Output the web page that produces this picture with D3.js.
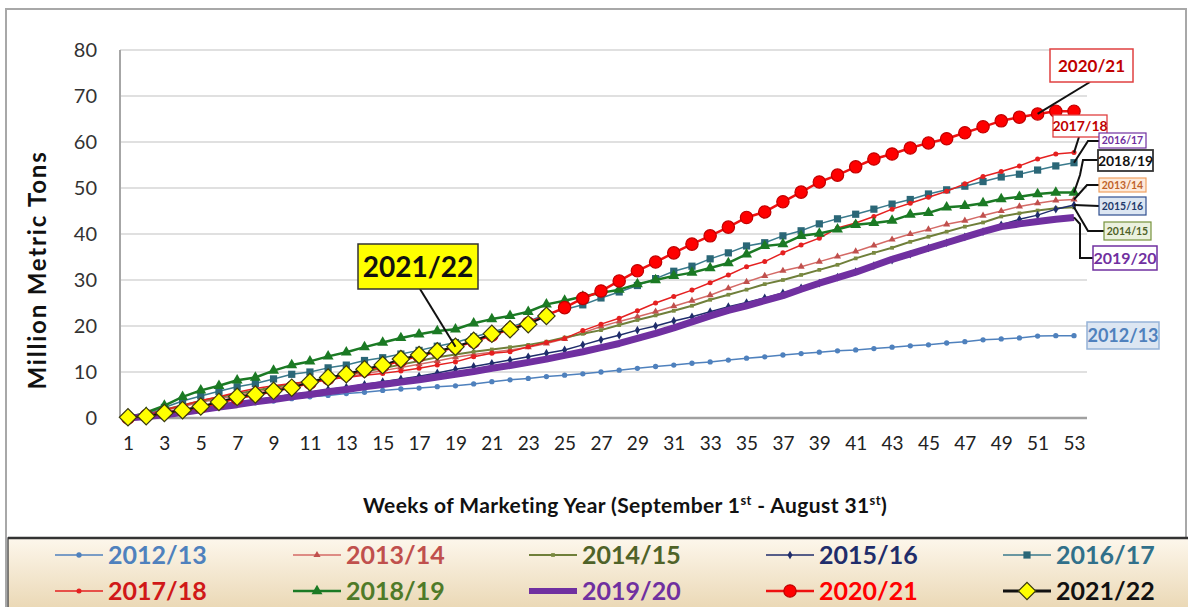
<!DOCTYPE html>
<html><head><meta charset="utf-8">
<script src="https://cdn.jsdelivr.net/npm/d3@7"></script>
<style>
html,body{margin:0;padding:0;background:#fff;}
svg{display:block;font-family:Lato,"Open Sans",sans-serif;}
</style></head>
<body><svg id="c" width="1188" height="607"></svg>
<script>
// ---------- DATA ----------
const weeks = d3.range(1, 54);
const xTickLabels = d3.range(1, 54, 2);
const yTickLabels = [0, 10, 20, 30, 40, 50, 60, 70, 80];
const seriesNames = ["2012/13","2013/14","2014/15","2015/16","2016/17","2017/18","2018/19","2019/20","2020/21","2021/22"];

const v2012_13 = [0,0.5,1.1,1.6,2.0,2.4,2.9,3.3,3.7,4.2,4.6,4.9,5.3,5.6,6.0,6.3,6.5,6.8,7.0,7.4,7.9,8.3,8.6,9.0,9.3,9.6,10.0,10.4,10.8,11.2,11.5,11.9,12.2,12.6,13.0,13.3,13.7,14.0,14.3,14.6,14.8,15.1,15.4,15.7,15.9,16.3,16.6,17.0,17.2,17.4,17.8,17.9,17.9];
const v2013_14 = [0,0.7,1.6,2.5,3.4,4.2,4.9,5.6,6.3,7.0,7.6,8.3,8.9,9.6,10.3,11.0,11.7,12.4,13.2,13.8,14.3,14.8,15.4,16.2,17.2,18.5,19.9,21.0,22.0,23.1,24.3,25.5,26.7,28.2,29.6,30.9,32.0,32.9,34.0,35.1,36.2,37.5,38.8,40.0,41.0,42.1,42.9,44.0,45.0,46.0,46.7,47.3,47.5];
const v2014_15 = [0,0.8,1.8,2.8,3.7,4.5,5.3,6.0,6.7,7.4,8.0,8.7,9.4,10.1,10.8,11.6,12.4,13.2,13.8,14.4,14.9,15.4,15.9,16.6,17.5,18.3,19.1,20.2,21.3,22.3,23.3,24.4,25.7,26.8,27.9,29.1,30.0,31.1,32.2,33.3,34.7,35.9,37.0,38.3,39.4,40.5,41.6,42.5,43.8,44.5,45.1,45.6,45.8];
const v2015_16 = [0,0.4,0.9,1.5,2.1,2.7,3.3,3.9,4.5,5.1,5.6,6.2,6.7,7.3,7.9,8.5,9.1,9.8,10.6,11.2,11.9,12.6,13.3,14.1,14.8,15.9,17.0,18.0,19.1,20.0,21.1,22.0,23.1,24.2,25.1,26.1,27.2,28.3,29.3,30.6,31.8,33.1,34.3,35.6,37.0,38.1,39.4,40.5,42.0,43.2,44.1,45.4,46.3];
const v2016_17 = [0,1.0,2.3,3.7,4.8,5.8,6.8,7.5,8.5,9.5,10.0,10.9,11.5,12.5,13.1,13.9,14.7,15.6,16.4,17.6,18.7,19.8,21.0,22.6,23.6,24.6,26.1,27.4,28.8,30.3,31.9,33.0,34.6,35.9,37.4,38.1,39.6,40.7,42.2,43.3,44.3,45.4,46.5,47.5,48.7,49.6,50.4,51.4,52.4,53.0,53.9,54.8,55.5];
const v2017_18 = [0,0.7,1.8,2.7,3.8,4.6,5.6,6.4,7.0,7.5,7.9,8.4,8.8,9.3,9.7,10.2,10.8,11.5,12.2,13.3,14.1,14.4,15.5,16.4,17.3,19.0,20.4,21.7,23.3,25.0,26.4,27.8,29.4,31.1,32.9,34.0,35.9,37.6,39.1,41.3,42.4,43.8,45.4,46.7,48.0,49.3,50.9,52.5,53.6,54.8,56.3,57.4,57.7];
const v2018_19 = [0,1.2,2.7,4.6,6.0,7.0,8.2,8.8,10.3,11.5,12.3,13.4,14.3,15.4,16.4,17.4,18.2,18.9,19.3,20.6,21.5,22.2,23.1,24.7,25.5,26.4,27.2,27.9,29.1,30.0,30.9,31.6,32.6,33.7,35.6,37.4,37.8,39.6,40.1,41.0,42.0,42.4,42.9,44.2,44.6,45.8,46.1,46.7,47.6,48.1,48.7,49.0,49.0];
const v2019_20 = [0,0.3,0.7,1.2,1.8,2.4,2.9,3.5,4.0,4.6,5.1,5.7,6.2,6.8,7.3,7.8,8.3,8.9,9.5,10.1,10.8,11.4,12.1,12.8,13.6,14.4,15.3,16.2,17.3,18.4,19.6,20.9,22.2,23.4,24.4,25.5,26.6,28.0,29.3,30.5,31.7,33.1,34.5,35.7,36.9,38.1,39.3,40.5,41.6,42.2,42.7,43.2,43.6];
const v2020_21 = [0,0.5,1.1,1.7,2.4,3.3,4.3,5.0,5.8,6.6,7.6,8.6,9.4,10.4,11.3,12.5,13.5,14.4,15.4,16.6,18.0,19.3,20.6,22.3,24.0,26.0,27.6,29.8,32.0,33.9,35.9,37.8,39.6,41.5,43.6,44.8,47.0,49.1,51.3,52.8,54.6,56.3,57.4,58.7,59.8,60.7,62.0,63.3,64.6,65.4,66.1,66.7,66.7];
const v2021_22 = [0.15,0.4,1.1,1.7,2.5,3.5,4.6,5.1,5.9,6.6,7.8,8.8,9.5,10.6,11.5,12.8,13.7,14.5,15.5,16.8,18.3,19.3,20.4,22.2];

const seriesValues = [v2012_13,v2013_14,v2014_15,v2015_16,v2016_17,v2017_18,v2018_19,v2019_20,v2020_21,v2021_22];

// ---------- STYLE ----------
const styles = {
  "2012/13": {line:"#4f81bd", w:1.5, sym:"circle", size:22, fill:"#4f81bd", stroke:"none", text:"#4f81bd"},
  "2013/14": {line:"#d46a66", w:1.5, sym:"triangle", size:22, fill:"#c0504d", stroke:"none", text:"#c0504d"},
  "2014/15": {line:"#6f7f3a", w:2, sym:"square", size:14, fill:"#7a8a40", stroke:"none", text:"#4f6228"},
  "2015/16": {line:"#1f2d6b", w:1.5, sym:"diamond", size:22, fill:"#1f2d6b", stroke:"none", text:"#1f2d6b"},
  "2016/17": {line:"#3a7a8c", w:1.5, sym:"square", size:52, fill:"#2b6777", stroke:"none", text:"#31708a"},
  "2017/18": {line:"#e52020", w:1.5, sym:"circle", size:20, fill:"#e52020", stroke:"none", text:"#d01818"},
  "2018/19": {line:"#1b7a24", w:2.5, sym:"triangle", size:52, fill:"#1b7a24", stroke:"none", text:"#4f7a28"},
  "2019/20": {line:"#7030a0", w:7, sym:null, size:0, fill:"none", stroke:"none", text:"#7030a0"},
  "2020/21": {line:"#ee1111", w:2.5, sym:"circle", size:120, fill:"#ff0000", stroke:"#c00000", text:"#ff0000"},
  "2021/22": {line:"#111111", w:2, sym:"bigdiamond", size:150, fill:"#ffff00", stroke:"#3a3a10", text:"#111111"}
};

// ---------- LAYOUT ----------
const svg = d3.select("#c");
const plotL = 120, plotR = 1087, plotT = 50, plotB = 418;
const x = d3.scaleLinear().domain([1, 53]).range([128, 1074]);
const y = d3.scaleLinear().domain([0, 80]).range([plotB, plotT]);

// outer frame
svg.append("rect").attr("x", 6).attr("y", 9).attr("width", 1180).attr("height", 620)
  .attr("fill", "#fff").attr("stroke", "#a8a8a8").attr("stroke-width", 2);

// gridlines
svg.append("g").selectAll("line").data(yTickLabels.filter(d => d > 0)).join("line")
  .attr("x1", plotL).attr("x2", plotR).attr("y1", d => y(d)).attr("y2", d => y(d))
  .attr("stroke", "#d6d6d6").attr("stroke-width", 1.5);

// axes
const yAxis = svg.append("g").attr("transform", `translate(${plotL},0)`)
  .call(d3.axisLeft(y).tickValues(yTickLabels).tickSize(0).tickPadding(23));
yAxis.select(".domain").remove();
yAxis.selectAll("text").attr("font-size", 20).attr("fill", "#333").attr("font-family", "Lato");

const xAxis = svg.append("g").attr("transform", `translate(0,${plotB})`)
  .call(d3.axisBottom(x).tickValues(xTickLabels).tickSize(0).tickPadding(19));
xAxis.select(".domain").remove();
xAxis.selectAll("text").attr("font-size", 19).attr("fill", "#222").attr("font-family", "Lato");

svg.append("line").attr("x1", plotL).attr("x2", plotL).attr("y1", plotT).attr("y2", plotB)
  .attr("stroke", "#a6a6a6").attr("stroke-width", 2);
svg.append("line").attr("x1", plotL).attr("x2", plotR).attr("y1", plotB).attr("y2", plotB)
  .attr("stroke", "#a0a0a0").attr("stroke-width", 2.5);

// axis titles
svg.append("text").attr("transform", "translate(46,270) rotate(-90)")
  .attr("text-anchor", "middle").attr("font-size", 24).attr("font-weight", "bold")
  .attr("letter-spacing", 1.8).attr("fill", "#111").text("Million Metric Tons");
const xt = svg.append("text").attr("x", 625).attr("y", 513).attr("text-anchor", "middle")
  .attr("font-size", 21).attr("font-weight", "bold").attr("letter-spacing", 0.4).attr("fill", "#111");
xt.append("tspan").text("Weeks of Marketing Year (September 1");
xt.append("tspan").attr("font-size", 13).attr("dy", -8).text("st");
xt.append("tspan").attr("dy", 8).text(" - August 31");
xt.append("tspan").attr("font-size", 13).attr("dy", -8).text("st");
xt.append("tspan").attr("dy", 8).text(")");

// symbol helper
function symPath(s) {
  if (!s.sym) return null;
  if (s.sym === "bigdiamond") return d3.symbol(d3.symbolSquare, s.size)();
  const t = {circle: d3.symbolCircle, triangle: d3.symbolTriangle, square: d3.symbolSquare, diamond: d3.symbolDiamond}[s.sym];
  return d3.symbol(t, s.size)();
}
const rot = s => s.sym === "bigdiamond" ? " rotate(45)" : "";

// series
const line = d3.line().x((d, i) => x(weeks[i])).y(d => y(d));
const gSeries = svg.append("g");
seriesNames.forEach((name, k) => {
  const vals = seriesValues[k];
  const s = styles[name];
  const g = gSeries.append("g");
  g.append("path").datum(vals).attr("d", line).attr("fill", "none")
    .attr("stroke", s.line).attr("stroke-width", s.w).attr("stroke-linejoin", "round");
  const p = symPath(s);
  if (p) {
    g.selectAll("path.m").data(vals).join("path").attr("class", "m").attr("d", p)
      .attr("transform", (d, i) => `translate(${x(weeks[i])},${y(d)})${rot(s)}`)
      .attr("fill", s.fill).attr("stroke", s.stroke).attr("stroke-width", s.stroke === "none" ? 0 : 1.2);
  }
});

// ---------- ANNOTATIONS ----------
const last = name => { const v = seriesValues[seriesNames.indexOf(name)]; return [x(weeks[v.length-1]), y(v[v.length-1])]; };
const at = (name, wk) => { const v = seriesValues[seriesNames.indexOf(name)]; return [x(wk), y(v[wk-1])]; };
const notes = [
  {name:"2021/22", box:[358,244,120,45], fs:28, fill:"#ffff00", border:"#333", tc:"#111", bw:1.5, pts:[[420,289]], target:at("2021/22",19)},
  {name:"2020/21", box:[1050,49,83,33], fs:17, fill:"#fff", border:"#e04040", tc:"#c00000", bw:1.5, pts:[[1090,82]], target:at("2020/21",51)},
  {name:"2017/18", box:[1053,115,54,22], fs:14, fill:"#fff", border:"#e04040", tc:"#c00000", bw:1.3, pts:[[1079,137]], target:last("2017/18")},
  {name:"2016/17", box:[1099,133,47,15], fs:10.5, fill:"#fff", border:"#7030a0", tc:"#7030a0", bw:1.2, pts:[[1099,141],[1088,141]], target:last("2016/17")},
  {name:"2018/19", box:[1098,150,55,21], fs:14, fill:"#fff", border:"#333", tc:"#111", bw:1.8, pts:[[1098,160],[1083,160],[1080,175]], target:last("2018/19")},
  {name:"2013/14", box:[1099,178,47,14], fs:10.5, fill:"#fdeadb", border:"#f0a060", tc:"#c0622a", bw:1.2, pts:[[1099,185],[1087,185]], target:last("2013/14")},
  {name:"2015/16", box:[1099,197,47,18], fs:10.5, fill:"#dce6f2", border:"#2f4f8f", tc:"#1f3a6b", bw:1.2, pts:[[1099,206]], target:last("2015/16")},
  {name:"2014/15", box:[1104,222,47,18], fs:10.5, fill:"#ebf1de", border:"#77933c", tc:"#4f6228", bw:1.2, pts:[[1104,231],[1088,231]], target:last("2014/15")},
  {name:"2019/20", box:[1093,246,64,24], fs:16, fill:"#fff", border:"#7030a0", tc:"#7030a0", bw:1.5, pts:[[1093,258],[1080,258],[1080,224]], target:last("2019/20")},
  {name:"2012/13", box:[1087,322,72,27], fs:18, fill:"#dce6f2", border:"#95b3d7", tc:"#4f81bd", bw:1.5, pts:[], target:null}
];
const gN = svg.append("g");
notes.forEach(n => {
  if (n.target) {
    const pts = n.pts.concat([n.target]);
    gN.append("path").attr("d", d3.line()(pts)).attr("fill", "none")
      .attr("stroke", "#111").attr("stroke-width", 2);
  }
});
notes.forEach(n => {
  const [bx, by, bw, bh] = n.box;
  gN.append("rect").attr("x", bx).attr("y", by).attr("width", bw).attr("height", bh)
    .attr("fill", n.fill).attr("stroke", n.border).attr("stroke-width", n.bw);
  gN.append("text").attr("x", bx + bw/2).attr("y", by + bh/2).attr("dy", "0.36em")
    .attr("text-anchor", "middle").attr("font-size", n.fs).attr("font-weight", "bold")
    .attr("fill", n.tc).text(n.name);
});

// ---------- LEGEND ----------
const defs = svg.append("defs");
const grad = defs.append("linearGradient").attr("id", "lg").attr("x1", 0).attr("x2", 0).attr("y1", 0).attr("y2", 1);
grad.append("stop").attr("offset", "0%").attr("stop-color", "#fdf7ec");
grad.append("stop").attr("offset", "100%").attr("stop-color", "#e8d4ae");
svg.append("rect").attr("x", 8).attr("y", 538).attr("width", 1190).attr("height", 80)
  .attr("fill", "url(#lg)").attr("stroke", "#555").attr("stroke-width", 1.5);
svg.append("line").attr("x1", 8).attr("x2", 1188).attr("y1", 538).attr("y2", 538)
  .attr("stroke", "#333").attr("stroke-width", 2.5);

const legX = [55, 293, 529, 766, 1003];
const legY = [555, 591];
const gL = svg.append("g");
seriesNames.forEach((name, k) => {
  const s = styles[name];
  const cx = legX[k % 5], cy = legY[Math.floor(k / 5)];
  const g = gL.append("g");
  g.append("line").attr("x1", cx).attr("x2", cx + 48).attr("y1", cy).attr("y2", cy)
    .attr("stroke", s.line).attr("stroke-width", name === "2019/20" ? 6 : (name === "2021/22" ? 3 : s.w));
  const p = symPath(s);
  if (p) g.append("path").attr("d", p).attr("transform", `translate(${cx+24},${cy})${rot(s)}`)
    .attr("fill", s.fill).attr("stroke", s.stroke).attr("stroke-width", s.stroke === "none" ? 0 : 1.2);
  g.append("text").attr("x", cx + 53).attr("y", cy).attr("dy", "0.35em")
    .attr("font-size", 25).attr("font-weight", "bold").attr("fill", s.text).text(name);
});
</script></body></html>
